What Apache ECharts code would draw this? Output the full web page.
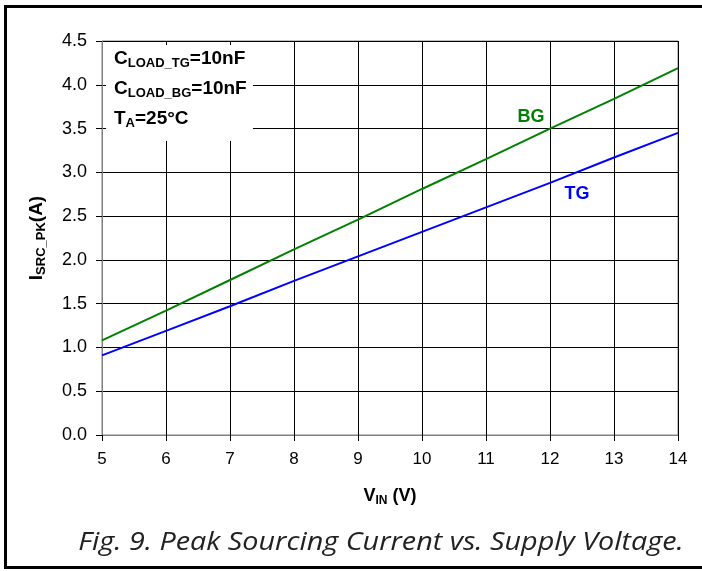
<!DOCTYPE html>
<html>
<head>
<meta charset="utf-8">
<script src="https://cdn.jsdelivr.net/npm/echarts@6/dist/echarts.min.js"></script>
<style>
html,body{margin:0;padding:0;background:#fff;}
#chart{width:702px;height:571px;}
</style>
</head>
<body>
<div id="chart"></div>
<script>
// Data
const vin = [5, 6, 7, 8, 9, 10, 11, 12, 13, 14];
const tgCurrent = [0.91, 1.19, 1.47, 1.76, 2.04, 2.32, 2.60, 2.88, 3.17, 3.45];
const bgCurrent = [1.08, 1.42, 1.77, 2.12, 2.46, 2.81, 3.15, 3.50, 3.84, 4.19];
const yTicks = ['0.0','0.5','1.0','1.5','2.0','2.5','3.0','3.5','4.0','4.5'];
const annotLines = [
  ['C', 'LOAD_TG', '=10nF'],
  ['C', 'LOAD_BG', '=10nF'],
  ['T', 'A', '=25°C']
];

const chart = echarts.init(document.getElementById('chart'));
const FONT = '"Liberation Sans", Arial, sans-serif';

function pairs(xs, ys) { return xs.map((x, i) => [x, ys[i]]); }

const richMain = {
  m: {fontFamily: FONT, fontWeight: 'bold', fontSize: 19, color: '#000', lineHeight: 22},
  s: {fontFamily: FONT, fontWeight: 'bold', fontSize: 13, color: '#000', lineHeight: 14, verticalAlign: 'bottom'}
};

const annotGraphics = annotLines.map((ln, i) => ({
  type: 'text',
  left: 114,
  top: 49 + i * 30,
  z: 20,
  style: {
    text: '{m|' + ln[0] + '}{s|' + ln[1] + '}{m|' + ln[2] + '}',
    rich: richMain
  }
}));

chart.setOption({
  animation: false,
  backgroundColor: '#fff',
  grid: {left: 102, right: 24, top: 41, bottom: 136, show: true, borderColor: '#808080', borderWidth: 1},
  xAxis: {
    type: 'value', min: 5, max: 14, interval: 1,
    name: '{m|V}{s|IN}{m| (V)}',
    nameLocation: 'middle', nameGap: 50,
    nameTextStyle: {
      rich: {
        m: {fontFamily: FONT, fontWeight: 'bold', fontSize: 18, color: '#000', lineHeight: 22},
        s: {fontFamily: FONT, fontWeight: 'bold', fontSize: 12, color: '#000', lineHeight: 13, verticalAlign: 'bottom'}
      }
    },
    axisLine: {show: true, onZero: false, lineStyle: {color: '#808080', width: 1}},
    axisTick: {show: true, length: 6, lineStyle: {color: '#000'}},
    axisLabel: {fontFamily: FONT, fontSize: 17, color: '#000', margin: 16},
    splitLine: {show: true, lineStyle: {color: '#000', width: 1}}
  },
  yAxis: {
    type: 'value', min: 0, max: 4.5, interval: 0.5,
    name: '{m|I}{s|SRC_PK}{m|(A)}',
    nameLocation: 'middle', nameGap: 54, nameRotate: 90,
    nameTextStyle: {
      rich: {
        m: {fontFamily: FONT, fontWeight: 'bold', fontSize: 19, color: '#000', lineHeight: 22},
        s: {fontFamily: FONT, fontWeight: 'bold', fontSize: 13, color: '#000', lineHeight: 14, verticalAlign: 'bottom'}
      }
    },
    axisLine: {show: true, onZero: false, lineStyle: {color: '#808080', width: 1}},
    axisTick: {show: true, length: 6, lineStyle: {color: '#000'}},
    axisLabel: {fontFamily: FONT, fontSize: 18, color: '#000', margin: 15,
      formatter: (v) => yTicks[Math.round(v / 0.5)]},
    splitLine: {show: true, lineStyle: {color: '#000', width: 1}}
  },
  series: [
    {name: 'BG', type: 'line', data: pairs(vin, bgCurrent), symbol: 'none', z: 5,
     lineStyle: {color: '#008000', width: 2}},
    {name: 'TG', type: 'line', data: pairs(vin, tgCurrent), symbol: 'none', z: 5,
     lineStyle: {color: '#0000ff', width: 2}}
  ],
  graphic: [
    {type: 'rect', z: 1, silent: true,
     shape: {x: 5.5, y: 6.5, width: 720, height: 561},
     style: {fill: null, stroke: '#000', lineWidth: 3}},
    {type: 'rect', z: 10, silent: true,
     shape: {x: 106, y: 45, width: 147, height: 96},
     style: {fill: '#fff', stroke: null}},
    ...annotGraphics,
    {type: 'text', z: 20, x: 531, y: 117,
     style: {text: 'BG', fontFamily: FONT, fontWeight: 'bold', fontSize: 18, fill: '#008000',
       align: 'center', verticalAlign: 'middle'}},
    {type: 'text', z: 20, x: 577, y: 194,
     style: {text: 'TG', fontFamily: FONT, fontWeight: 'bold', fontSize: 18, fill: '#0000ff',
       align: 'center', verticalAlign: 'middle'}},
    {type: 'text', z: 20, x: 381, y: 543, scaleX: 1.15,
     style: {text: 'Fig. 9. Peak Sourcing Current vs. Supply Voltage.', fontFamily: '"Open Sans", sans-serif',
       fontStyle: 'italic', fontSize: 25, fill: '#222', align: 'center', verticalAlign: 'middle'}}
  ]
});
</script>
</body>
</html>
